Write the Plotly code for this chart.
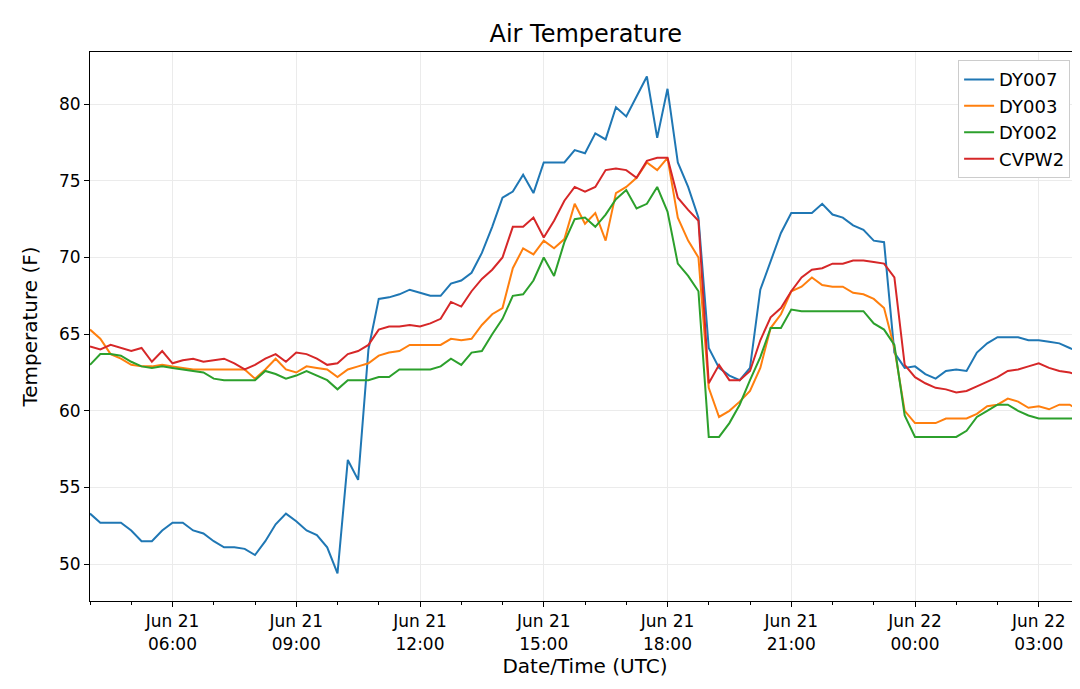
import pandas as pd
import plotly.graph_objects as go


# значения температуры каждые 15 минут, начиная с 04:00 UTC 21 июня
temperature = {
    'DY007': [53.3, 52.7, 52.7, 52.7, 52.2, 51.5, 51.5, 52.2, 52.7, 52.7, 52.2, 52.0, 51.5, 51.1, 51.1, 51.0,
              50.6, 51.5, 52.6, 53.3, 52.8, 52.2, 51.9, 51.1, 49.4, 56.8, 55.5, 64.0, 67.3, 67.4, 67.6, 67.9,
              67.7, 67.5, 67.5, 68.3, 68.5, 69.0, 70.3, 72.0, 73.9, 74.3, 75.4, 74.2, 76.2, 76.2, 76.2, 77.0,
              76.8, 78.1, 77.7, 79.8, 79.2, 80.5, 81.8, 77.8, 81.0, 76.2, 74.6, 72.6, 64.1, 62.8, 62.3, 62.0,
              62.8, 67.9, 69.8, 71.6, 72.9, 72.9, 72.9, 73.5, 72.8, 72.6, 72.1, 71.8, 71.1, 71.0, 63.8, 62.8,
              62.9, 62.4, 62.1, 62.6, 62.7, 62.6, 63.8, 64.4, 64.8, 64.8, 64.8, 64.6, 64.6, 64.5, 64.4, 64.1,
              63.8],
    'DY003': [65.3, 64.7, 63.7, 63.4, 63.0, 62.9, 62.9, 63.0, 62.9, 62.8, 62.7, 62.7, 62.7, 62.7, 62.7, 62.7,
              62.1, 62.7, 63.4, 62.7, 62.5, 62.9, 62.8, 62.7, 62.2, 62.7, 62.9, 63.1, 63.6, 63.8, 63.9, 64.3,
              64.3, 64.3, 64.3, 64.7, 64.6, 64.7, 65.6, 66.3, 66.7, 69.3, 70.6, 70.2, 71.1, 70.6, 71.2, 73.5,
              72.2, 72.9, 71.1, 74.2, 74.6, 75.2, 76.2, 75.7, 76.5, 72.6, 71.1, 70.0, 61.5, 59.6, 60.0, 60.6,
              61.3, 62.8, 65.4, 66.3, 67.8, 68.1, 68.7, 68.2, 68.1, 68.1, 67.7, 67.6, 67.3, 66.7, 64.1, 60.0,
              59.2, 59.2, 59.2, 59.5, 59.5, 59.5, 59.8, 60.3, 60.4, 60.8, 60.6, 60.2, 60.3, 60.1, 60.4, 60.4,
              60.0],
    'DY002': [63.0, 63.7, 63.7, 63.6, 63.2, 62.9, 62.8, 62.9, 62.8, 62.7, 62.6, 62.5, 62.1, 62.0, 62.0, 62.0,
              62.0, 62.6, 62.4, 62.1, 62.3, 62.6, 62.3, 62.0, 61.4, 62.0, 62.0, 62.0, 62.2, 62.2, 62.7, 62.7,
              62.7, 62.7, 62.9, 63.4, 63.0, 63.8, 63.9, 65.0, 66.0, 67.5, 67.6, 68.5, 70.0, 68.8, 71.0, 72.5,
              72.6, 72.0, 72.8, 73.8, 74.4, 73.2, 73.5, 74.6, 73.0, 69.6, 68.8, 67.8, 58.3, 58.3, 59.2, 60.4,
              62.0, 63.5, 65.4, 65.4, 66.6, 66.5, 66.5, 66.5, 66.5, 66.5, 66.5, 66.5, 65.7, 65.3, 64.3, 59.7,
              58.3, 58.3, 58.3, 58.3, 58.3, 58.7, 59.6, 60.0, 60.4, 60.4, 60.0, 59.7, 59.5, 59.5, 59.5, 59.5,
              59.5],
    'CVPW2': [64.2, 64.0, 64.3, 64.1, 63.9, 64.1, 63.2, 63.9, 63.1, 63.3, 63.4, 63.2, 63.3, 63.4, 63.1, 62.7,
              63.0, 63.4, 63.7, 63.2, 63.8, 63.7, 63.4, 63.0, 63.1, 63.7, 63.9, 64.3, 65.3, 65.5, 65.5, 65.6,
              65.5, 65.7, 66.0, 67.1, 66.8, 67.8, 68.6, 69.2, 70.0, 72.0, 72.0, 72.6, 71.3, 72.4, 73.7, 74.6,
              74.3, 74.6, 75.7, 75.8, 75.7, 75.2, 76.3, 76.5, 76.5, 73.9, 73.1, 72.4, 61.8, 63.0, 62.0, 62.0,
              62.6, 64.6, 66.1, 66.7, 67.8, 68.7, 69.2, 69.3, 69.6, 69.6, 69.8, 69.8, 69.7, 69.6, 68.7, 63.0,
              62.2, 61.8, 61.5, 61.4, 61.2, 61.3, 61.6, 61.9, 62.2, 62.6, 62.7, 62.9, 63.1, 62.8, 62.6, 62.5,
              62.3],
}
colors = {'DY007': '#1f77b4', 'DY003': '#ff7f0e', 'DY002': '#2ca02c', 'CVPW2': '#d62728'}


def draw_temperature(temperature):
    times = pd.date_range('2019-06-21 04:00', periods=len(temperature['DY007']), freq='15min')
    fig = go.Figure()
    for station, values in temperature.items():
        fig.add_trace(go.Scatter(x=times, y=values, mode='lines', name=station,
                                 line=dict(color=colors[station], width=2)))

    ticks = pd.date_range('2019-06-21 06:00', periods=8, freq='3h')
    axis_style = dict(showline=True, linecolor='black', linewidth=1, mirror=True, ticks='outside',
                      tickcolor='black', showgrid=True, gridcolor='#ebebeb', zeroline=False,
                      automargin=False, tickfont=dict(size=17, color='black'))
    fig.update_xaxes(range=[times[0], times[-1]], tickvals=ticks,
                     ticktext=[t.strftime('%b %d<br>%H:%M') for t in ticks],
                     title=dict(text='Date/Time (UTC)', font=dict(size=20, color='black'), standoff=6),
                     minor=dict(ticks='outside', dtick=3600000, ticklen=3, tickcolor='black'), **axis_style)
    fig.update_yaxes(range=[47.6, 83.4], tickvals=[50, 55, 60, 65, 70, 75, 80],
                     title=dict(text='Temperature (F)', font=dict(size=20, color='black')), **axis_style)
    fig.update_layout(title=dict(text='Air Temperature', x=0.535, xanchor='center', y=0.975,
                                 font=dict(size=24, color='black')),
                      width=1080, height=689, plot_bgcolor='white', paper_bgcolor='white',
                      font=dict(family='DejaVu Sans'), margin=dict(l=82, r=8, t=44, b=96),
                      legend=dict(x=0.99, y=0.985, xanchor='right', yanchor='top', bgcolor='white',
                                  bordercolor='#cccccc', borderwidth=1, font=dict(size=18, color='black')))
    return fig

fig = draw_temperature(temperature)
fig.write_html('out.html')
